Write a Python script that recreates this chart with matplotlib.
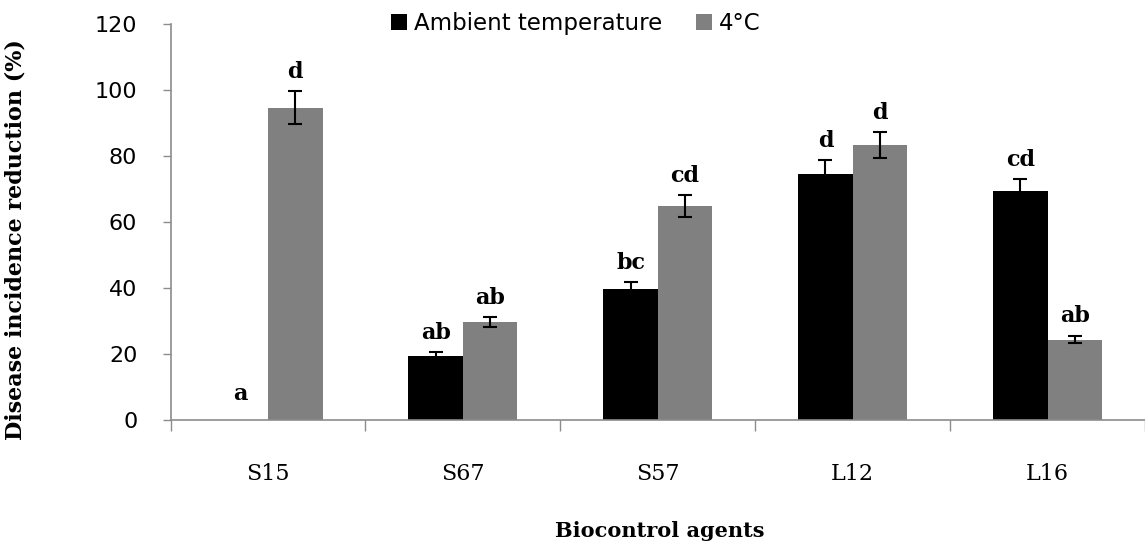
import numpy as np
import matplotlib
matplotlib.use("Agg")
import matplotlib.pyplot as plt

# values
agents = ["S15", "S67", "S57", "L12", "L16"]
ambient = [0, 19.3, 39.7, 74.7, 69.4]
ambient_err = [0, 1.2, 2.0, 4.0, 3.7]
cold = [94.6, 29.8, 64.8, 83.3, 24.4]
cold_err = [5.0, 1.5, 3.3, 4.0, 1.2]
ambient_letters = ["a", "ab", "bc", "d", "cd"]
cold_letters = ["d", "ab", "cd", "d", "ab"]
yticks = [0, 20, 40, 60, 80, 100, 120]

axis_grey = "#8c8c8c"
bar_w = 0.28

fig = plt.figure(figsize=(11.45, 5.51), dpi=100)
ax = fig.add_axes([0.149, 0.2377, 0.851, 0.7187])

x = np.arange(len(agents))
ax.bar(x - bar_w / 2, ambient, bar_w, color="black", label="Ambient temperature")
ax.bar(x + bar_w / 2, cold, bar_w, color="#808080", label="4°C")

# error bars (the S15 ambient bar has none)
for xs, vals, errs in [(x - bar_w / 2, ambient, ambient_err), (x + bar_w / 2, cold, cold_err)]:
    for xi, v, e in zip(xs, vals, errs):
        if e > 0:
            ax.errorbar(xi, v, yerr=e, fmt="none", ecolor="black",
                        elinewidth=1.5, capsize=5, capthick=1.5)

# significance letters
for xs, vals, errs, letters in [(x - bar_w / 2, ambient, ambient_err, ambient_letters),
                                (x + bar_w / 2, cold, cold_err, cold_letters)]:
    for xi, v, e, t in zip(xs, vals, errs, letters):
        ax.text(xi, max(v + e + 4, 6), t, ha="center", va="baseline",
                fontsize=16, fontweight="bold", family="DejaVu Serif")

ax.set_xlim(-0.5, 4.458)
ax.set_ylim(0, 120)
ax.set_yticks(yticks)
ax.tick_params(axis="y", direction="out", length=6, width=1, color=axis_grey,
               pad=18, labelsize=16)

ax.set_xticks(x)
ax.set_xticklabels(agents, family="DejaVu Serif", fontsize=16)
ax.set_xticks(np.arange(-0.5, len(agents), 1.0), minor=True)
ax.tick_params(axis="x", which="major", length=0, pad=31)
ax.tick_params(axis="x", which="minor", direction="out", length=8, width=1, color=axis_grey)

for side in ["top", "right"]:
    ax.spines[side].set_visible(False)
for side in ["left", "bottom"]:
    ax.spines[side].set_color(axis_grey)
    ax.spines[side].set_linewidth(1.2)

ax.set_xlabel("Biocontrol agents", fontsize=15, fontweight="bold", family="DejaVu Serif")
ax.xaxis.set_label_coords(0.502, -0.255)
ax.set_ylabel("Disease incidence reduction (%)", fontsize=16, fontweight="bold",
              family="DejaVu Serif")
ax.yaxis.set_label_coords(-0.148, 0.455)

fig.legend(loc="center", bbox_to_anchor=(0.503, 0.958), ncol=2, frameon=False,
           fontsize=16.5, handlelength=0.7, handleheight=0.7, handletextpad=0.3,
           columnspacing=1.5)

fig.savefig("out.png", dpi=100)
